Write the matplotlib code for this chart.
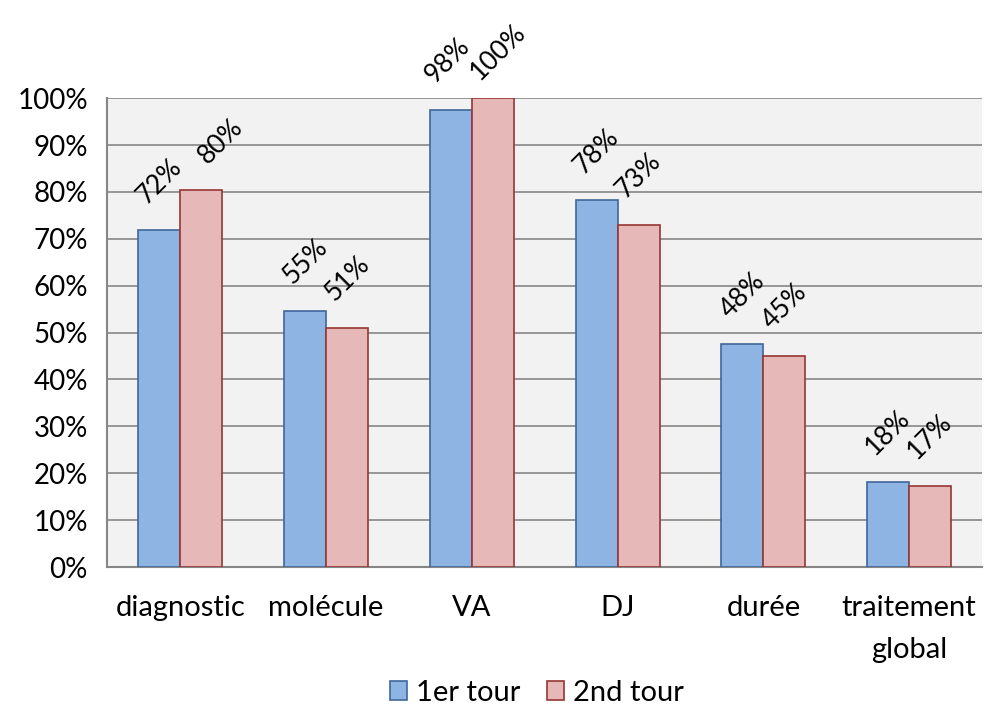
import numpy as np
import matplotlib.pyplot as plt
from matplotlib.ticker import FuncFormatter

categories = ["diagnostic", "molécule", "VA", "DJ", "durée", "traitement\nglobal"]
tour1 = [71.8, 54.7, 97.5, 78.2, 47.5, 18.1]
tour2 = [80.3, 51.0, 100.0, 72.9, 45.0, 17.3]
labels1 = ["72%", "55%", "98%", "78%", "48%", "18%"]
labels2 = ["80%", "51%", "100%", "73%", "45%", "17%"]

plt.rcParams['font.family'] = ['Lato', 'DejaVu Sans']

fig = plt.figure(figsize=(9.94, 7.11), dpi=100)
ax = fig.add_axes([0.108, 0.2025, 0.880, 0.6595])

x = np.arange(len(categories))
w = 0.288
b1 = ax.bar(x - w / 2, tour1, w, color='#8EB4E3', edgecolor='#41679A', linewidth=1.2,
            label='1er tour', zorder=3)
b2 = ax.bar(x + w / 2, tour2, w, color='#E6B9B8', edgecolor='#953735', linewidth=1.2,
            label='2nd tour', zorder=3)

# small nudges Excel applied to keep neighbouring labels apart
nudge = {(1, 0): (14, 16), (1, 2): (4, 10), (0, 2): (-2, 16)}

for k, (bars, labs) in enumerate(((b1, labels1), (b2, labels2))):
    for i, (bar, lab) in enumerate(zip(bars, labs)):
        off = nudge.get((k, i), (0, 16))
        ax.annotate(lab, (bar.get_x() + bar.get_width() / 2, bar.get_height()),
                    xytext=off, textcoords='offset points',
                    ha='center', va='bottom', rotation=45, fontsize=19)

ax.set_facecolor('#F2F2F2')
ax.set_xlim(-0.5, len(categories) - 0.5)
ax.set_ylim(0, 100)
ax.set_yticks(np.arange(0, 101, 10))
ax.yaxis.set_major_formatter(FuncFormatter(lambda v, p: f"{v:.0f}%"))
ax.grid(axis='y', color='#868686', linewidth=1.2, zorder=0)
ax.set_xticks(x)
ax.set_xticklabels(categories, fontsize=21, linespacing=1.75)
ax.tick_params(axis='y', labelsize=20, length=0, pad=14)
ax.tick_params(axis='x', length=0, pad=20)
for s in ('top', 'right'):
    ax.spines[s].set_visible(False)
for s in ('left', 'bottom'):
    ax.spines[s].set_color('#868686')
    ax.spines[s].set_linewidth(1.5)

fig.legend(loc='lower center', bbox_to_anchor=(0.54, -0.017), ncol=2, frameon=False,
           fontsize=21, handlelength=0.6, handleheight=0.6, handletextpad=0.3,
           columnspacing=0.9, borderpad=0.1)

plt.savefig('out.png', dpi=100)
